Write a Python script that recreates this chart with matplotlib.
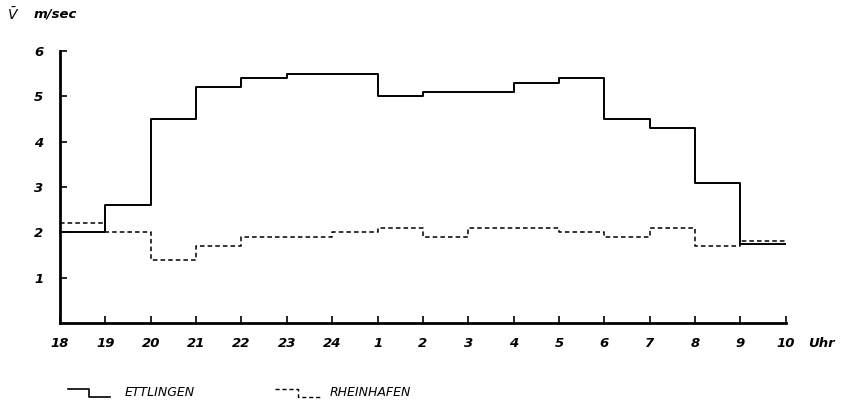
import numpy as np
import matplotlib
matplotlib.use('Agg')
import matplotlib.pyplot as plt
from matplotlib.lines import Line2D

hours = ['18', '19', '20', '21', '22', '23', '24', '1', '2', '3', '4', '5', '6', '7', '8', '9', '10']
ettlingen = [2.0, 2.6, 4.5, 5.2, 5.4, 5.5, 5.5, 5.0, 5.1, 5.1, 5.3, 5.4, 4.5, 4.3, 3.1, 1.75]
rheinhafen = [2.2, 2.0, 1.4, 1.7, 1.9, 1.9, 2.0, 2.1, 1.9, 2.1, 2.1, 2.0, 1.9, 2.1, 1.7, 1.8]
yticks = [1, 2, 3, 4, 5, 6]

fig = plt.figure(figsize=(8.45, 4.03), dpi=100)
ax = fig.add_axes([0.071, 0.1985, 0.859, 0.6745])

x = np.arange(len(hours))
ax.step(x, ettlingen + [ettlingen[-1]], where='post', color='black', lw=1.4)
ax.step(x, rheinhafen + [rheinhafen[-1]], where='post', color='black', lw=1.1,
        linestyle=(0, (3, 2)))

ax.set_xlim(0, len(hours) - 1)
ax.set_ylim(0, 6)
ax.set_xticks(x)
ax.set_xticklabels(hours)
ax.set_yticks(yticks)
ax.set_yticklabels([str(v) for v in yticks])

for s in ['top', 'right']:
    ax.spines[s].set_visible(False)
for s in ['left', 'bottom']:
    ax.spines[s].set_linewidth(2)
ax.tick_params(direction='in', length=5, width=1.2, labelsize=9.5)
ax.tick_params(axis='x', pad=10)
ax.tick_params(axis='y', pad=12)
for lab in ax.get_xticklabels() + ax.get_yticklabels():
    lab.set_style('italic')
    lab.set_fontweight('bold')

fig.text(0.956, 0.147, 'Uhr', fontsize=9.5, style='italic', fontweight='bold',
         ha='left', va='center')
fig.text(0.008, 0.965, r'$\bar{V}$', fontsize=10, va='center')
fig.text(0.04, 0.965, 'm/sec', fontsize=9.5, style='italic', fontweight='bold', va='center')

# legend symbols
W, H = 845, 403
def px(xs, ys):
    return [v / W for v in xs], [1 - v / H for v in ys]

lx, ly = px([68, 89, 89, 110], [389, 389, 397, 397])
fig.add_artist(Line2D(lx, ly, color='black', lw=1.2, transform=fig.transFigure))
fig.text(125 / W, 1 - 392 / H, 'ETTLINGEN', fontsize=9, style='italic', va='center')
lx, ly = px([275, 298, 298, 322], [389, 389, 397, 397])
fig.add_artist(Line2D(lx, ly, color='black', lw=1.0, linestyle=(0, (3, 2)),
                      transform=fig.transFigure))
fig.text(330 / W, 1 - 392 / H, 'RHEINHAFEN', fontsize=9, style='italic', va='center')

fig.savefig('out.png', dpi=100)
